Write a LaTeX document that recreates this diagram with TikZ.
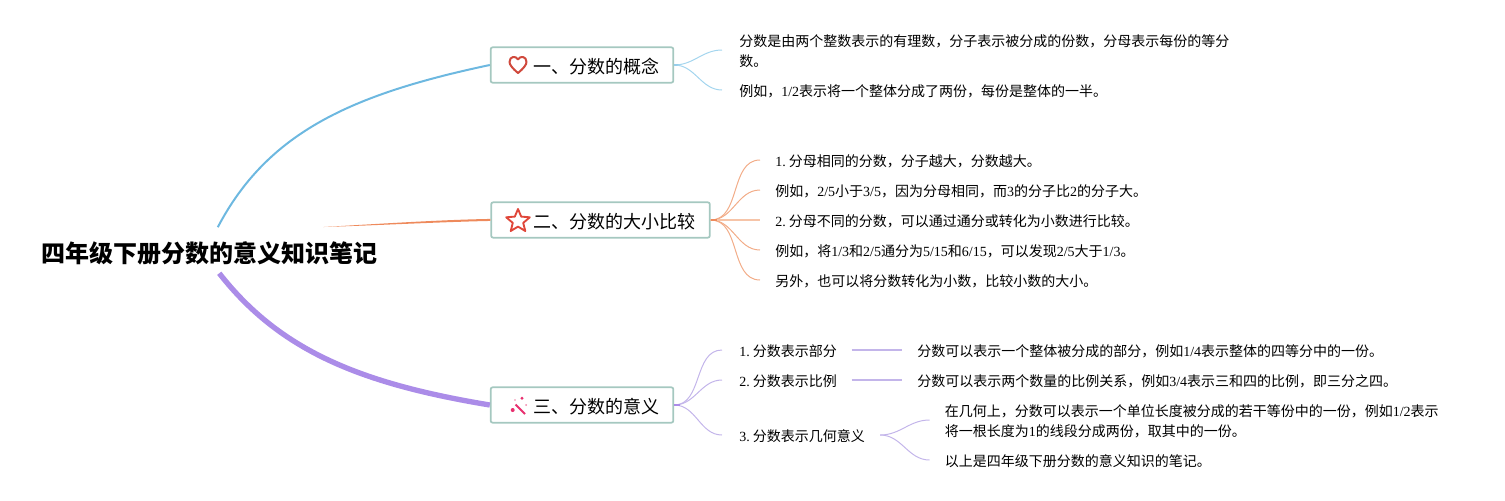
\documentclass[tikz,border=0pt]{standalone}
\usepackage{fontspec}
\setmainfont{Noto Sans CJK SC}
\newfontfamily\tmfont{Liberation Serif}
\newcommand{\tm}[1]{{\tmfont #1}}
\newcommand{\num}[1]{{\tmfont #1.}\hspace{2.4pt}}
\definecolor{cblue}{HTML}{6DB8E0}
\definecolor{corange}{HTML}{EE8A5C}
\definecolor{cpurple}{HTML}{AB8CE8}
\definecolor{lblue}{HTML}{A3D5EE}
\definecolor{lorange}{HTML}{F2AC88}
\definecolor{lmid}{HTML}{F6C4A8}
\definecolor{lpurple}{HTML}{C3B5EA}
\definecolor{boxline}{HTML}{A5C8C0}
\definecolor{iconheart}{HTML}{D0493C}
\definecolor{iconstar}{HTML}{E0473A}
\definecolor{iconwand}{HTML}{E8306F}
\tikzset{
  x=0.75pt,y=-0.75pt,
  rootnode/.style={inner xsep=0pt,inner ysep=0pt,minimum height=33.75pt,font=\fontsize{18pt}{22pt}\selectfont\bfseries},
  branchbox/.style={draw=boxline,line width=1.3pt,rounded corners=1.5pt,fill=white,inner sep=0pt,minimum height=26.5pt},
  branchtext/.style={anchor=west,inner sep=0pt,font=\fontsize{13.5pt}{17pt}\selectfont},
  leaf/.style={anchor=west,inner ysep=0pt,inner xsep=0pt,align=left,font=\fontsize{10.5pt}{15pt}\selectfont},
  link/.style={line width=0.75pt},
  curvelink/.style={link,out=0,in=180},
  stub/.style={line width=1pt},
}
\begin{document}
\begin{tikzpicture}
\useasboundingbox (0,0) rectangle (1505,500);
% root and branches
\node[rootnode,anchor=west] (root) at (41,253) {四年级下册分数的意义知识笔记};
\coordinate (rootblue) at ([shift={(8.5,-3)}]root.north);
\coordinate (rootorange) at ([shift={(114,-3.2)}]root.north);
\coordinate (rootpurple) at ([shift={(10,-2.5)}]root.south);
\node[branchbox,minimum width=137pt] (b1) at (582,65) {};
\node[branchbox,minimum width=164pt] (b2) at (600.5,220) {};
\node[branchbox,minimum width=137pt] (b3) at (582,405) {};
\node[branchtext] (t1) at (533,66.5) {一、分数的概念};
\node[branchtext] (t2) at (533,221.5) {二、分数的大小比较};
\node[branchtext] (t3) at (533,406.5) {三、分数的意义};
\draw[cblue,line width=1.5pt] (rootblue) .. controls (267.5,132.5) and (351,94.4) .. (b1.west);
\fill[corange] (rootorange) .. controls (380,223.8) and (440,219.8) .. ([yshift=0.8pt]b2.west) -- ([yshift=-0.7pt]b2.west) .. controls (440,222) and (380,225.2) .. (rootorange) -- cycle;
\draw[cpurple,line width=4pt] (rootpurple) .. controls (280,351) and (361,383.7) .. (b3.west);
% icons
\draw[iconheart,line width=1.5pt,line join=round]
  (518,73) .. controls (512,68) and (509.5,64.5) .. (509.5,62)
  .. controls (509.5,56) and (516,55.5) .. (518,59.5)
  .. controls (520,55.5) and (526.5,56) .. (526.5,62)
  .. controls (526.5,64.5) and (524,68) .. (518,73) -- cycle;
\draw[iconstar,line width=1.4pt,line join=round]
  (518,209) -- (521.2,216.6) -- (529.8,217.3) -- (523.2,222.9) -- (525.3,231) -- (518,226.6)
  -- (510.7,231) -- (512.8,222.9) -- (506.2,217.3) -- (514.8,216.6) -- cycle;
\draw[iconwand,line width=1.5pt] (515.5,404.5) -- (525,414);
\fill[iconwand] (512.7,410) circle[radius=2];
\fill[iconwand] (522,398.3) circle[radius=1.6];
\fill[iconwand!60] (526,405) circle[radius=1];
\fill[iconwand!60] (515,400) circle[radius=0.8];
% branch 1
\node[leaf,inner xsep=12.75pt] (a1) at (722,51.5) {分数是由两个整数表示的有理数，分子表示被分成的份数，分母表示每份的等分\\数。};
\node[leaf,inner xsep=12.75pt] (a2) at (722,91.5) {例如，\tm{1/2}表示将一个整体分成了两份，每份是整体的一半。};
\draw[cblue,stub] (b1.east) -- ++(6,0);
\draw[lblue,curvelink] (b1.east) to ([yshift=1.125pt]a1.west);
\draw[lblue,curvelink] (b1.east) to ([yshift=1.125pt]a2.west);
% branch 2
\node[leaf,inner xsep=11.25pt] (c1) at (760,161.5) {\num{1}分母相同的分数，分子越大，分数越大。};
\node[leaf,inner xsep=11.25pt] (c2) at (760,191.5) {例如，\tm{2/5}小于\tm{3/5}，因为分母相同，而\tm{3}的分子比\tm{2}的分子大。};
\node[leaf,inner xsep=11.25pt] (c3) at (760,221.5) {\num{2}分母不同的分数，可以通过通分或转化为小数进行比较。};
\node[leaf,inner xsep=11.25pt] (c4) at (760,251.5) {例如，将\tm{1/3}和\tm{2/5}通分为\tm{5/15}和\tm{6/15}，可以发现\tm{2/5}大于\tm{1/3}。};
\node[leaf,inner xsep=11.25pt] (c5) at (760,281.5) {另外，也可以将分数转化为小数，比较小数的大小。};
\foreach \n in {c1,c2,c4,c5} \draw[lorange,curvelink] (b2.east) to ([yshift=1.125pt]\n.west);
\draw[lmid,line width=1.3pt] (b2.east) -- ([yshift=1.125pt]c3.west);
\draw[corange,stub] (b2.east) -- ++(6,0);
% branch 3
\node[leaf,inner xsep=12.75pt] (d1) at (722,351.5) {\num{1}分数表示部分};
\node[leaf,inner xsep=12.75pt] (d2) at (722,381.5) {\num{2}分数表示比例};
\node[leaf,inner xsep=12.75pt] (d3) at (722,436.5) {\num{3}分数表示几何意义};
\foreach \n in {d1,d2,d3} \draw[lpurple,curvelink] (b3.east) to ([yshift=1.125pt]\n.west);
\draw[cpurple,stub] (b3.east) -- ++(6,0);
\node[leaf,inner xsep=11.25pt] (e1) at (902,351.5) {分数可以表示一个整体被分成的部分，例如\tm{1/4}表示整体的四等分中的一份。};
\node[leaf,inner xsep=11.25pt] (e2) at (902,381.5) {分数可以表示两个数量的比例关系，例如\tm{3/4}表示三和四的比例，即三分之四。};
\node[leaf,inner xsep=11.25pt] (f1) at (929.5,421.5) {在几何上，分数可以表示一个单位长度被分成的若干等份中的一份，例如\tm{1/2}表示\\将一根长度为\tm{1}的线段分成两份，取其中的一份。};
\node[leaf,inner xsep=11.25pt] (f2) at (929.5,461.5) {以上是四年级下册分数的意义知识的笔记。};
\draw[lpurple,line width=1pt] ([shift={(-2.5,-1.5)}]d1.east) -- ([yshift=1.125pt]e1.west);
\draw[lpurple,line width=1pt] ([shift={(-2.5,-1.5)}]d2.east) -- ([yshift=1.125pt]e2.west);
\draw[lpurple,curvelink] ([shift={(-2,-1.5)}]d3.east) to ([yshift=1.125pt]f1.west);
\draw[lpurple,curvelink] ([shift={(-2,-1.5)}]d3.east) to ([yshift=1.125pt]f2.west);
\end{tikzpicture}
\end{document}
